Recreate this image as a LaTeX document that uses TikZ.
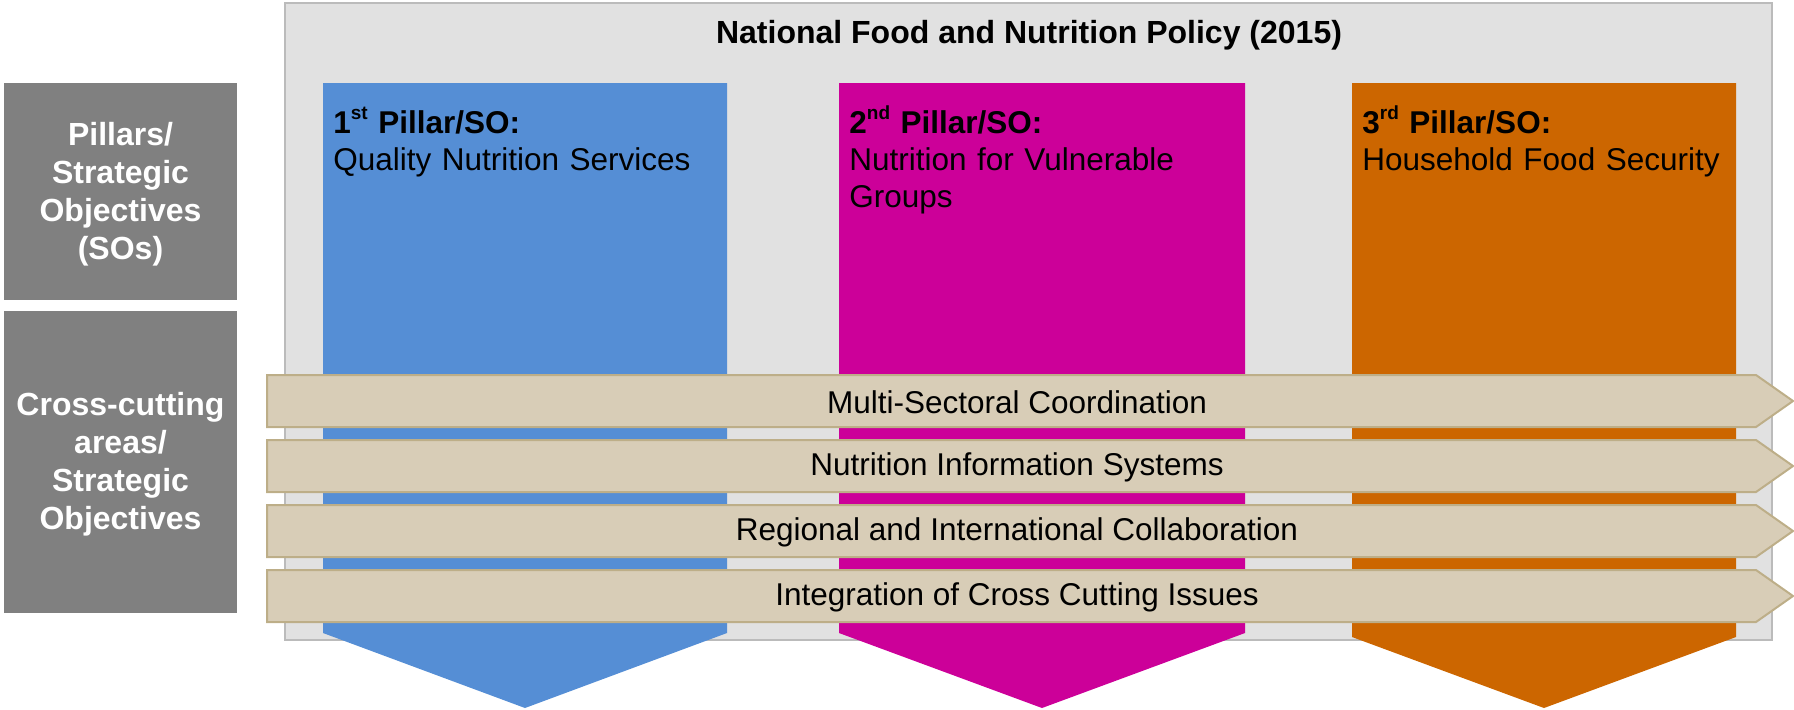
\documentclass[tikz,border=0pt]{standalone}
\usepackage{fontspec}
\setmainfont{Liberation Sans}

\definecolor{frameGray}{HTML}{E1E1E1}
\definecolor{frameLine}{HTML}{BBBBBB}
\definecolor{sideGray}{HTML}{808080}
\definecolor{pillarBlue}{HTML}{558ED5}
\definecolor{pillarMagenta}{HTML}{CC0099}
\definecolor{pillarOrange}{HTML}{CC6600}
\definecolor{barFill}{HTML}{D8CDB7}
\definecolor{barLine}{HTML}{BDAE88}

\newcommand{\ordsup}[1]{\raisebox{0.42em}{\fontsize{9.5}{10}\selectfont #1}}

\begin{document}
\begin{tikzpicture}[
                x=0.5pt, y=-0.5pt,
                sidetext/.style={text=white, align=center, inner sep=0pt,
                        font=\fontsize{16}{19}\selectfont\bfseries},
                pillartext/.style={anchor=base west, text width=200pt, align=left, inner sep=0pt,
                        font=\fontsize{15.75}{18.5}\selectfont},
                crossbar/.style={fill=barFill, draw=barLine, line width=1pt},
                bartext/.style={inner sep=0pt, font=\fontsize{15.75}{19}\selectfont}
            ]

            \useasboundingbox (0,0) rectangle (1794,709);

            % policy frame
            \draw[fill=frameGray, draw=frameLine, line width=1pt] (285,3) rectangle (1772,640);
            \node[anchor=base, inner sep=0pt, font=\fontsize{16}{19}\selectfont\bfseries] (title)
                at (1029,43) {National Food and Nutrition Policy (2015)};

            % row labels
            \fill[sideGray] (4,83) rectangle (237,300);
            \fill[sideGray] (4,311) rectangle (237,613);
            \node[sidetext] (pillarslabel) at (120.5,194) {Pillars/\\Strategic\\Objectives\\(SOs)};
            \node[sidetext] (crosslabel) at (120.5,464) {Cross-cutting\\areas/\\Strategic\\Objectives};

            % pillars
            \foreach \l/\r/\s/\c in {323/727/633/pillarBlue, 839/1245/633/pillarMagenta, 1352/1736/637/pillarOrange}
                \fill[\c] (\l,83) -- (\r,83) -- (\r,\s) -- ({(\l+\r)/2},708) -- (\l,\s) -- cycle;

            \node[pillartext] (pillar1) at (333,133) {\textbf{1\ordsup{st} Pillar/SO:}\\Quality Nutrition Services};
            \node[pillartext] (pillar2) at (849,133) {\textbf{2\ordsup{nd} Pillar/SO:}\\Nutrition for Vulnerable\\Groups};
            \node[pillartext] (pillar3) at (1362,133) {\textbf{3\ordsup{rd} Pillar/SO:}\\Household Food Security};

            % cross-cutting bars
            \foreach \t [count=\i] in {Multi-Sectoral Coordination, Nutrition Information Systems,
                    Regional and International Collaboration, Integration of Cross Cutting Issues} {
                    \pgfmathsetmacro{\top}{375+65*(\i-1)}
                    \pgfmathsetmacro{\bot}{\top+52}
                    \pgfmathsetmacro{\mid}{\top+27.5}
                    \draw[crossbar] (267,\top) -- (1756,\top) -- (1793,\top+26) -- (1756,\bot) -- (267,\bot) -- cycle;
                    \node[bartext] (bar\i) at (1017,\mid) {\t};
                }

        \end{tikzpicture}
\end{document}
